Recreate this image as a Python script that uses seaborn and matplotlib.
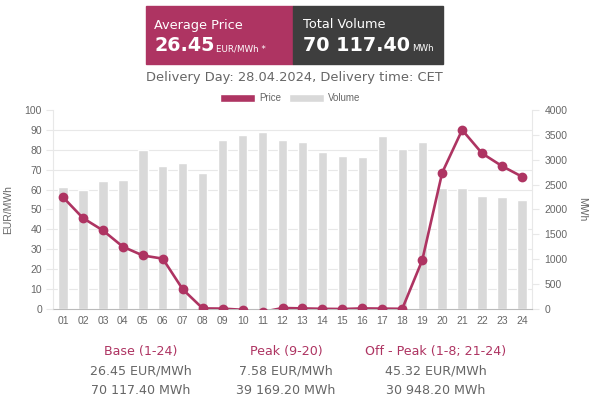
import numpy as np
import pandas as pd
import seaborn as sns
import matplotlib
matplotlib.use("Agg")
import matplotlib.pyplot as plt
from matplotlib.patches import Rectangle, Patch

# hourly data
hours = ["%02d" % h for h in range(1, 25)]
price = [56.2, 45.7, 39.5, 31.3, 26.9, 25.3, 9.9, 0.3,
         0.2, -0.4, -1.5, 0.5, 0.3, 0.1, 0.0, 0.3,
         0.2, 0.1, 24.5, 68.5, 90.0, 78.2, 71.8, 66.5]
volume = [2448, 2395, 2582, 2602, 3191, 2870, 2936, 2736,
          3398, 3505, 3565, 3405, 3360, 3153, 3080, 3053,
          3480, 3220, 3353, 2440, 2427, 2273, 2247, 2193]

summary_titles = ["Base (1-24)", "Peak (9-20)", "Off - Peak (1-8; 21-24)"]
summary_prices = ["26.45 EUR/MWh", "7.58 EUR/MWh", "45.32 EUR/MWh"]
summary_volumes = ["70 117.40 MWh", "39 169.20 MWh", "30 948.20 MWh"]

CRIMSON = "#AE3462"
DARK = "#3E3E3E"
BAR = "#D9D9D9"
GRID = "#E8E8E8"
TXT = "#666666"

df = pd.DataFrame({"hour": hours, "price": price, "volume": volume})

sns.set_style("white")
plt.rcParams["font.family"] = ["DejaVu Sans"]

fig = plt.figure(figsize=(6, 4), dpi=100)
ax = fig.add_axes([53 / 600, 1 - 309 / 400, 479 / 600, 199 / 400])
ax2 = ax.twinx()

# volume bars on the right axis, behind the price line
sns.barplot(data=df, x="hour", y="volume", ax=ax2, color=BAR, saturation=1,
            width=0.47, zorder=2)
sns.pointplot(data=df, x="hour", y="price", ax=ax, color=CRIMSON, errorbar=None,
              markersize=5.6, linewidth=1.9, zorder=5)

ax.set_zorder(ax2.get_zorder() + 1)
ax.patch.set_visible(False)

n = len(hours)
ax.set_xlim(-0.5, n - 0.5)
ax.set_ylim(0, 100)
ax2.set_ylim(0, 4000)
ax.set_yticks(np.arange(0, 101, 10))
ax2.set_yticks(np.arange(0, 4001, 500))

# grid drawn on the volume axis so it sits under the bars
ax2.set_axisbelow(True)
ax2.set_yticks(np.arange(0, 4001, 400), minor=True)
ax2.set_xticks(np.arange(-0.5, n, 1), minor=True)
ax2.grid(which="minor", color=GRID, linewidth=0.8)
ax2.grid(which="major", visible=False)

lab_font = {"family": "Liberation Sans", "size": 7.5}
ax.set_xticks(range(n))
ax.set_xticklabels(hours, color=TXT, fontdict=lab_font)
for t in ax.get_yticklabels() + ax2.get_yticklabels():
    t.set_color(TXT)
    t.set_fontfamily("Liberation Sans")
    t.set_fontsize(7.5)

ax.tick_params(axis="x", length=0, pad=5)
ax.tick_params(axis="y", length=5, color=GRID, pad=3)
ax2.tick_params(axis="y", which="major", length=5, color=GRID, pad=4)
ax2.tick_params(axis="y", which="minor", length=0)
ax2.tick_params(axis="x", which="minor", length=5, color=GRID)
ax2.tick_params(axis="x", which="major", length=0, labelbottom=False)

ax.set_xlabel("")
ax.set_ylabel("EUR/MWh", color=TXT, fontfamily="Liberation Sans", fontsize=7.5, labelpad=8)
ax2.set_ylabel("MWh", color=TXT, fontfamily="Liberation Sans", fontsize=7.5,
               rotation=270, labelpad=14)
ax2.set_xlabel("")

for a in (ax, ax2):
    for s in a.spines.values():
        s.set_visible(False)
ax2.spines["bottom"].set_visible(True)
ax2.spines["bottom"].set_color("#BBBBBB")
ax2.spines["left"].set_visible(True)
ax2.spines["left"].set_color(GRID)
ax2.spines["right"].set_visible(True)
ax2.spines["right"].set_color(GRID)

# header boxes
fig.patches.append(Rectangle((146 / 600, 1 - 64 / 400), 147 / 600, 58 / 400,
                             transform=fig.transFigure, color=CRIMSON, zorder=0))
fig.patches.append(Rectangle((293 / 600, 1 - 64 / 400), 150 / 600, 58 / 400,
                             transform=fig.transFigure, color=DARK, zorder=0))
fig.text(154 / 600, 1 - 25 / 400, "Average Price", color="white", fontsize=9.3, va="center")
big1 = fig.text(154 / 600, 1 - 51 / 400, "26.45", color="white", fontsize=13.8,
                fontweight="bold", va="baseline")
fig.text(303 / 600, 1 - 25 / 400, "Total Volume", color="white", fontsize=9.3, va="center")
big2 = fig.text(303 / 600, 1 - 51 / 400, "70 117.40", color="white", fontsize=13.8,
                fontweight="bold", va="baseline")

# small units placed right after the big numbers
fig.canvas.draw()
r = fig.canvas.get_renderer()
for big, unit in ((big1, "EUR/MWh *"), (big2, "MWh")):
    bb = big.get_window_extent(r)
    fig.text((bb.x1 + 2) / 600, 1 - 51 / 400, unit, color="white", fontsize=6.3,
             va="baseline")

fig.text(294 / 600, 1 - 77 / 400, "Delivery Day: 28.04.2024, Delivery time: CET",
         color=TXT, fontsize=9.4, ha="center", va="center")

handles = [Patch(facecolor=CRIMSON, label="Price"), Patch(facecolor=BAR, label="Volume")]
fig.legend(handles=handles, loc="center", bbox_to_anchor=(290 / 600, 1 - 98 / 400),
           ncol=2, frameon=False, handlelength=3.6, handleheight=0.9, handletextpad=0.4,
           columnspacing=0.8, prop={"family": "Liberation Sans", "size": 7},
           labelcolor=TXT)

# summary block below the chart
col_x = [141, 286, 436]
for x, title, p, v in zip(col_x, summary_titles, summary_prices, summary_volumes):
    fig.text(x / 600, 1 - 351 / 400, title, color=CRIMSON, fontsize=9.1, ha="center", va="center")
    fig.text(x / 600, 1 - 371 / 400, p, color=TXT, fontsize=9.1, ha="center", va="center")
    fig.text(x / 600, 1 - 390 / 400, v, color=TXT, fontsize=9.1, ha="center", va="center")

fig.savefig("out.png", dpi=100, facecolor="white")
